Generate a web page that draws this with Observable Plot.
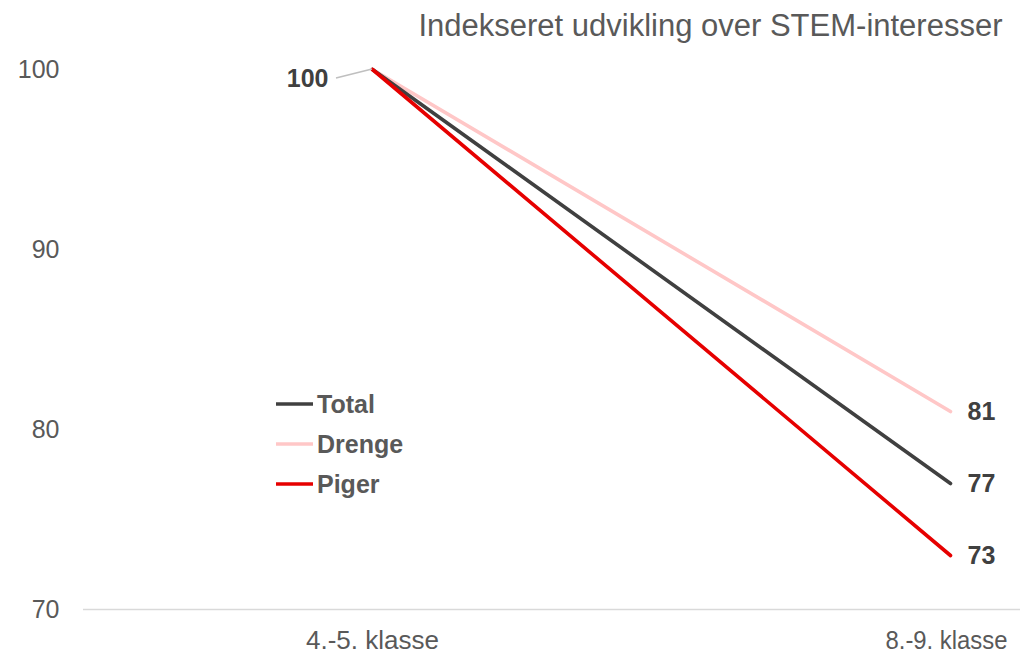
<!DOCTYPE html>
<html>
<head>
<meta charset="utf-8">
<script src="https://cdn.jsdelivr.net/npm/d3@7"></script>
<script src="https://cdn.jsdelivr.net/npm/@observablehq/plot@0.6"></script>
<style>
  html, body { margin: 0; padding: 0; background: #fff; }
  body { font-family: "Liberation Sans", Arial, sans-serif; }
</style>
</head>
<body>
<div id="chart"></div>
<script>
const title = "Indekseret udvikling over STEM-interesser";
const categories = ["4.-5. klasse", "8.-9. klasse"];
const seriesNames = ["Total", "Drenge", "Piger"];
const totalValues = [100, 77];
const drengeValues = [100, 81];
const pigerValues = [100, 73];
const yTicks = [70, 80, 90, 100];
const colors = {Total: "#404040", Drenge: "#ffc7c7", Piger: "#e60000"};

const valuesBySeries = {Total: totalValues, Drenge: drengeValues, Piger: pigerValues};
const data = seriesNames.flatMap(s => categories.map((c, i) => ({series: s, cat: c, value: valuesBySeries[s][i]})));
const endData = data.filter(d => d.cat === categories[1]);
const startData = data.filter(d => d.cat === categories[0] && d.series === "Total");
const drawOrder = ["Drenge", "Total", "Piger"];

const font = "Liberation Sans, Arial, sans-serif";

const chart = Plot.plot({
  width: 1022,
  height: 654,
  marginTop: 69,
  marginBottom: 45,
  marginLeft: 83,
  marginRight: 2,
  style: {fontFamily: font, background: "#fff", overflow: "visible"},
  x: {type: "point", domain: categories, padding: 0.31, align: 0.805, label: null},
  y: {domain: [70, 100], label: null},
  marks: [
    Plot.ruleY([70], {stroke: "#d9d9d9", strokeWidth: 1.5}),
    Plot.axisY({ticks: yTicks, tickSize: 0, tickPadding: 24, fontSize: 25, fill: "#595959", label: null}),
    Plot.axisX({ticks: [categories[0]], tickSize: 0, tickPadding: 21, fontSize: 26, fill: "#595959", label: null}),
    Plot.axisX({ticks: [categories[1]], tickSize: 0, tickPadding: 21, fontSize: 26, dx: -4, fill: "#595959", label: null}),
    ...drawOrder.map(s => Plot.line(data.filter(d => d.series === s), {
      x: "cat", y: "value", stroke: colors[s], strokeWidth: 3.6, strokeLinecap: "round"
    })),
    Plot.text(endData, {x: "cat", y: "value", text: d => String(d.value), dx: 17, textAnchor: "start",
      fontSize: 25, fontWeight: "bold", fill: "#404040"}),
    Plot.text(startData, {x: "cat", y: "value", text: d => String(d.value), dx: -44, dy: 9, textAnchor: "end",
      fontSize: 25, fontWeight: "bold", fill: "#404040"}),
    Plot.text([title], {frameAnchor: "top-right", dx: -18, dy: -43, textAnchor: "end", lineAnchor: "middle",
      fontSize: 31, fill: "#595959"})
  ]
});

const svg = d3.select(chart);
// the right-hand category label is slightly condensed in the reference
svg.selectAll('g[aria-label="x-axis tick label"] text')
  .filter(function () { return this.textContent === categories[1]; })
  .attr("textLength", 122).attr("lengthAdjust", "spacingAndGlyphs");

// leader line for the "100" label, based on the plot's own scales
const sx = chart.scale("x"), sy = chart.scale("y");
const px = sx.apply(categories[0]), py = sy.apply(100);
svg.append("line")
  .attr("x1", px).attr("y1", py).attr("x2", px - 36).attr("y2", py + 9)
  .attr("stroke", "#bfbfbf").attr("stroke-width", 1.3);

// legend
const lg = svg.append("g").attr("transform", "translate(276,404)");
seriesNames.forEach((s, i) => {
  const g = lg.append("g").attr("transform", `translate(0,${i * 40})`);
  g.append("line").attr("x1", 0).attr("x2", 37).attr("y1", 0).attr("y2", 0)
    .attr("stroke", colors[s]).attr("stroke-width", 3.6);
  g.append("text").attr("x", 41).attr("y", 0).attr("dy", "0.35em")
    .attr("text-anchor", "start")
    .attr("font-size", 25).attr("font-weight", "bold").attr("fill", "#595959")
    .attr("font-family", font).text(s);
});

document.getElementById("chart").appendChild(chart);
</script>
</body>
</html>
